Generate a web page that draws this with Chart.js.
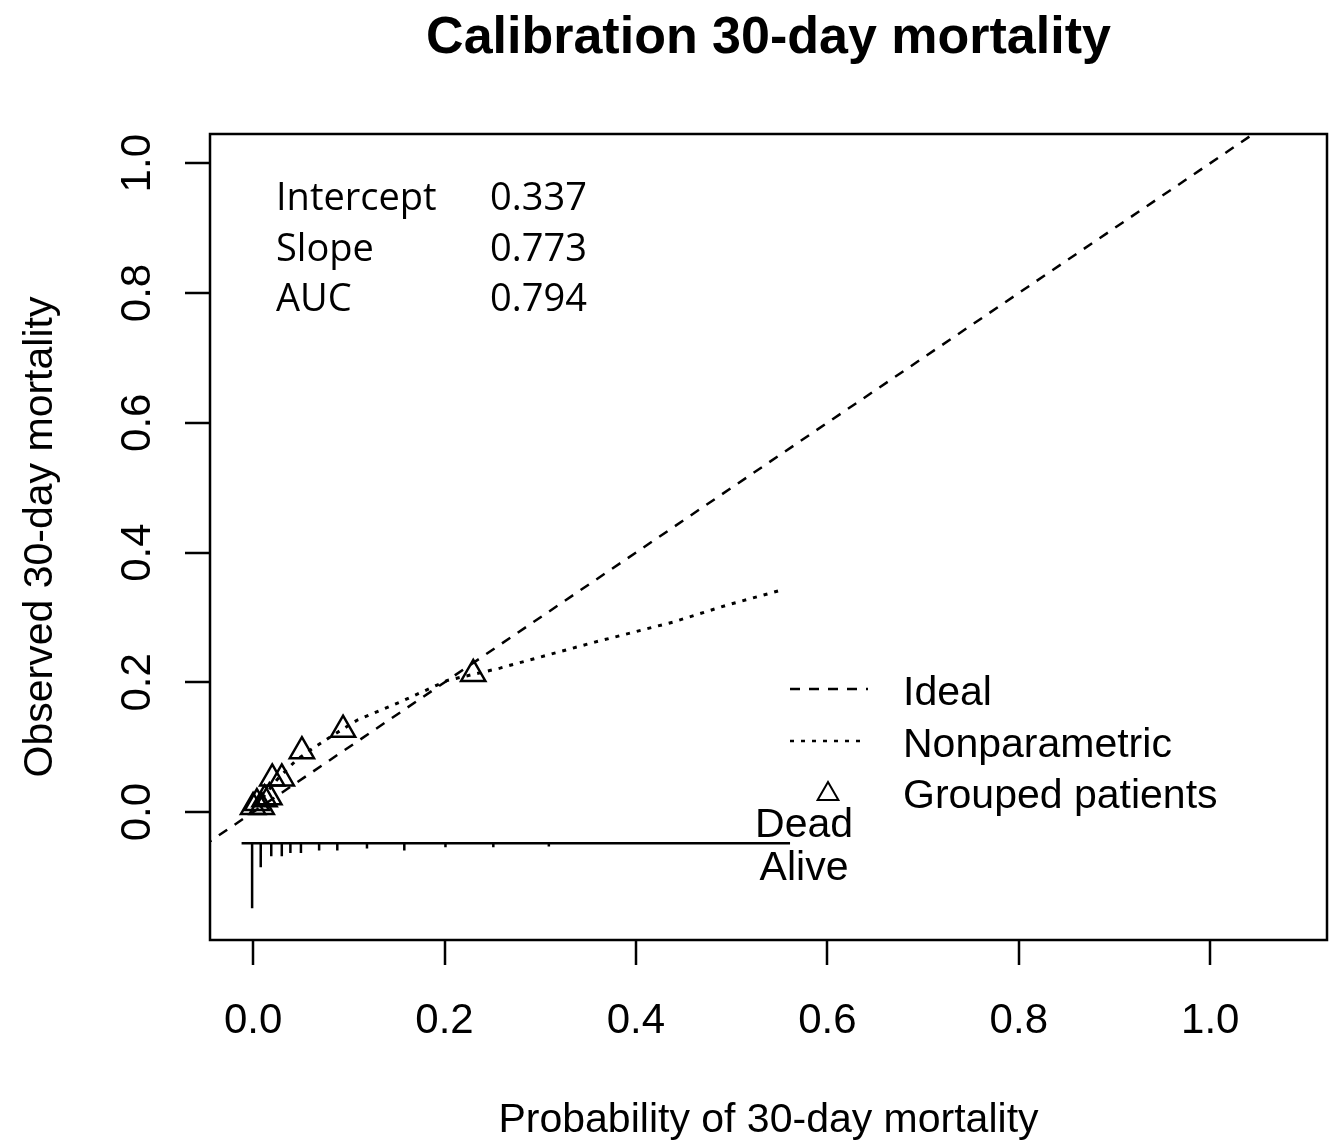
<!DOCTYPE html>
<html>
<head>
<meta charset="utf-8">
<script src="https://cdn.jsdelivr.net/npm/chart.js@4.4.1/dist/chart.umd.min.js"></script>
<style>
  html, body { margin: 0; padding: 0; background: #fff; }
  canvas { display: block; }
</style>
</head>
<body>
<canvas id="calib" width="1337" height="1141"></canvas>
<script>
// tick values on both axes
const xTicks = [0.0, 0.2, 0.4, 0.6, 0.8, 1.0];
const yTicks = [0.0, 0.2, 0.4, 0.6, 0.8, 1.0];

// ideal line y = x (clipped to plot region)
const idealX = [-0.2, 1.2];

// nonparametric (loess) curve
const npX = [0.003, 0.012, 0.025, 0.045, 0.063, 0.085, 0.109, 0.154, 0.203, 0.258, 0.300, 0.357, 0.439, 0.495, 0.549];
const npY = [0.008, 0.026, 0.050, 0.080, 0.099, 0.120, 0.142, 0.170, 0.203, 0.222, 0.239, 0.262, 0.293, 0.319, 0.341];

// grouped patients (triangles)
const groupX = [0.000, 0.004, 0.009, 0.012, 0.017, 0.020, 0.030, 0.051, 0.094, 0.230];
const groupY = [0.008, 0.014, 0.008, 0.020, 0.023, 0.052, 0.052, 0.094, 0.127, 0.213];

// spike histogram of predicted probabilities (alive, drawn downward)
const spikeX = [-0.001, 0.008, 0.019, 0.030, 0.039, 0.050, 0.069, 0.088, 0.119, 0.158, 0.201, 0.251, 0.309];
const spikeAlive = [0.100, 0.037, 0.020, 0.020, 0.015, 0.015, 0.011, 0.011, 0.008, 0.011, 0.006, 0.006, 0.005];
const spikeBase = -0.048;
const spikeRange = [-0.012, 0.561];

// text in the plot
const statLabels = ["Intercept", "Slope", "AUC"];
const statValues = ["0.337", "0.773", "0.794"];
const legendLabels = ["Ideal", "Nonparametric", "Grouped patients"];

const FONT = '"Liberation Sans", Arial, sans-serif';
const DASHED = [10, 9];
const DOTTED = [4, 7];

// build the spike segments, separated by gaps
const spikePts = [];
spikeX.forEach((v, i) => {
    spikePts.push({x: v, y: spikeBase});
    spikePts.push({x: v, y: spikeBase - spikeAlive[i]});
    spikePts.push({x: v, y: null});
});

function tri(ctx, cx, cy, r){
    ctx.beginPath();
    ctx.moveTo(cx, cy - r);
    ctx.lineTo(cx + r * Math.sqrt(3) / 2, cy + r / 2);
    ctx.lineTo(cx - r * Math.sqrt(3) / 2, cy + r / 2);
    ctx.closePath();
    ctx.stroke();
}

// R-style frame, axes, labels, legend
const rFrame = {
    id: "rFrame",
    afterDraw(chart){
        const {ctx, chartArea: a} = chart;
        const x = chart.scales.x, y = chart.scales.y;
        ctx.save();
        ctx.strokeStyle = "#000";
        ctx.fillStyle = "#000";
        ctx.lineWidth = 2.5;
        ctx.setLineDash([]);
        ctx.strokeRect(a.left, a.top, a.right - a.left, a.bottom - a.top);

        // ticks
        ctx.beginPath();
        xTicks.forEach(v => {
            const px = Math.round(x.getPixelForValue(v));
            ctx.moveTo(px, a.bottom);
            ctx.lineTo(px, a.bottom + 25);
        });
        yTicks.forEach(v => {
            const py = Math.round(y.getPixelForValue(v));
            ctx.moveTo(a.left, py);
            ctx.lineTo(a.left - 25, py);
        });
        ctx.stroke();

        // tick labels
        ctx.font = "42px " + FONT;
        ctx.textAlign = "center";
        ctx.textBaseline = "alphabetic";
        xTicks.forEach(v => ctx.fillText(v.toFixed(1), x.getPixelForValue(v), 1033));
        yTicks.forEach(v => {
            ctx.save();
            ctx.translate(150, y.getPixelForValue(v));
            ctx.rotate(-Math.PI / 2);
            ctx.fillText(v.toFixed(1), 0, 0);
            ctx.restore();
        });

        // axis titles
        ctx.font = "41px " + FONT;
        ctx.fillText("Probability of 30-day mortality", (a.left + a.right) / 2, 1132);
        ctx.save();
        ctx.translate(52, (a.top + a.bottom) / 2);
        ctx.rotate(-Math.PI / 2);
        ctx.fillText("Observed 30-day mortality", 0, 0);
        ctx.restore();

        // main title
        ctx.font = "bold 52px " + FONT;
        ctx.fillText("Calibration 30-day mortality", (a.left + a.right) / 2, 53);

        // stats block
        ctx.font = "38px \"Open Sans\", sans-serif";
        ctx.textAlign = "left";
        statLabels.forEach((s, i) => {
            const by = 210 + i * 50.5;
            ctx.fillText(s, 276, by);
            ctx.fillText(statValues[i], 490, by);
        });

        // legend
        ctx.font = "41px " + FONT;
        const ly = [689, 741, 792];
        legendLabels.forEach((s, i) => ctx.fillText(s, 903, ly[i] + 16));
        ctx.lineWidth = 2.5;
        ctx.beginPath();
        ctx.setLineDash(DASHED);
        ctx.moveTo(790, ly[0]);
        ctx.lineTo(868, ly[0]);
        ctx.stroke();
        ctx.beginPath();
        ctx.setLineDash(DOTTED);
        ctx.moveTo(790, ly[1]);
        ctx.lineTo(862, ly[1]);
        ctx.stroke();
        ctx.setLineDash([]);
        ctx.lineWidth = 2;
        tri(ctx, 828, ly[2] + 2, 12);

        // Dead / Alive labels at end of spike histogram
        const ex = x.getPixelForValue(spikeRange[1]) + 14;
        const ey = y.getPixelForValue(spikeBase);
        ctx.textAlign = "center";
        ctx.fillText("Dead", ex, ey - 6);
        ctx.fillText("Alive", ex, ey + 37);
        ctx.restore();
    }
};

const lineBase = {
    showLine: true,
    pointRadius: 0,
    borderColor: "#000",
    backgroundColor: "#000",
    fill: false,
    tension: 0
};

new Chart(document.getElementById("calib"), {
    type: "scatter",
    data: {
        datasets: [
            Object.assign({}, lineBase, {
                label: "Ideal",
                data: idealX.map(v => ({x: v, y: v})),
                borderWidth: 2.5,
                borderDash: DASHED
            }),
            Object.assign({}, lineBase, {
                label: "Nonparametric",
                data: npX.map((v, i) => ({x: v, y: npY[i]})),
                borderWidth: 3,
                borderDash: DOTTED
            }),
            {
                label: "Grouped patients",
                data: groupX.map((v, i) => ({x: v, y: groupY[i]})),
                pointStyle: "triangle",
                pointRadius: 14,
                borderWidth: 2.5,
                borderColor: "#000",
                backgroundColor: "rgba(0,0,0,0)"
            },
            Object.assign({}, lineBase, {
                label: "baseline",
                data: spikeRange.map(v => ({x: v, y: spikeBase})),
                borderWidth: 2.5
            }),
            Object.assign({}, lineBase, {
                label: "Alive",
                data: spikePts,
                borderWidth: 2.5,
                spanGaps: false
            })
        ]
    },
    options: {
        responsive: false,
        animation: false,
        devicePixelRatio: 1,
        events: [],
        layout: {
            autoPadding: false,
            padding: {left: 210, top: 134, right: 10, bottom: 201}
        },
        scales: {
            x: {type: "linear", min: -0.045, max: 1.122, display: false},
            y: {type: "linear", min: -0.197, max: 1.045, display: false}
        },
        plugins: {
            legend: {display: false},
            tooltip: {enabled: false},
            title: {display: false}
        }
    },
    plugins: [rFrame]
});
</script>
</body>
</html>
